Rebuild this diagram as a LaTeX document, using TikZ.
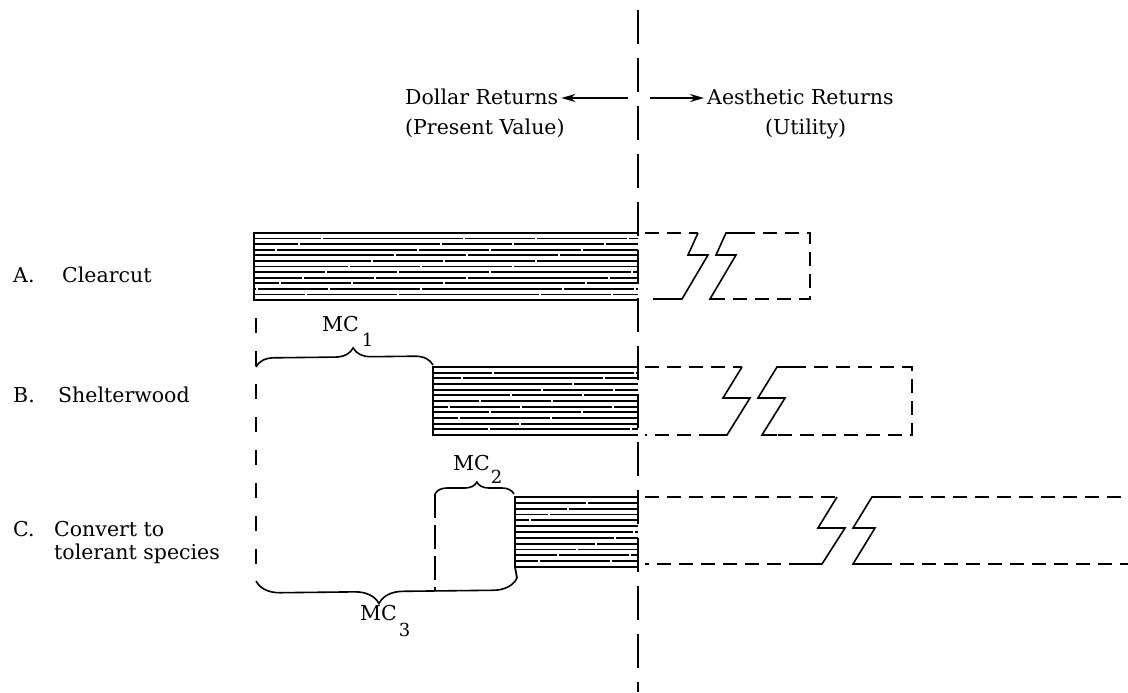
\documentclass[tikz,border=0pt]{standalone}
\usepackage{fontspec}
\setmainfont{DejaVu Serif}
\usetikzlibrary{arrows.meta,decorations.pathreplacing}
\begin{document}
\begin{tikzpicture}[x=1pt,y=-1pt,
  txt/.style={font=\fontsize{20.5}{24}\selectfont, inner sep=0pt},
  axisline/.style={line width=1.6pt, dash pattern=on 34pt off 14pt},
  barline/.style={line width=1.8pt},
  hatch/.style={line width=1.8pt, dash pattern=on 90pt off 2pt on 140pt off 2pt on 70pt off 2pt},
  ext/.style={line width=1.6pt, dash pattern=on 14pt off 8pt},
  zig/.style={line width=1.6pt, line join=miter},
  bound/.style={line width=1.6pt, dash pattern=on 15pt off 18pt},
  bound2/.style={line width=1.6pt, dash pattern=on 24pt off 7pt},
  brc/.style={line width=1.6pt, decorate},
  arr/.style={line width=1.9pt, -{Stealth[length=14pt,width=8pt]}},
]
\useasboundingbox (0,0) rectangle (1128,693);

% central axis
\coordinate (ctop) at (638,10);
\coordinate (cbot) at (638,692);
\draw[axisline] (ctop) -- (cbot);

% header
\node[txt, anchor=base west] (dr) at (405,105) {Dollar Returns};
\node[txt, anchor=base west] (pv) at (405,135) {(Present Value)};
\node[txt, anchor=base west] (ar) at (707,105) {Aesthetic Returns};
\node[txt, anchor=base west] (ut) at (765,135) {(Utility)};
\coordinate (la) at (628,98);
\coordinate (ra) at (650,98);
\draw[arr] (la) -- ([xshift=3pt]dr.east |- la);
\draw[arr] (ra) -- ([xshift=-3pt]ar.west |- ra);

% row labels
\node[txt, anchor=base west] (lA) at (13,282) {A.};
\node[txt, anchor=base west] (nA) at (62,282) {Clearcut};
\node[txt, anchor=base west] (lB) at (13,402) {B.};
\node[txt, anchor=base west] (nB) at (58,402) {Shelterwood};
\node[txt, anchor=base west] (lC) at (13,536) {C.};
\node[txt, anchor=base west] (nC1) at (54,536) {Convert to};
\node[txt, anchor=base west] (nC2) at (54,559) {tolerant species};

% bar A
\foreach \f in {1,...,11}
  \draw[hatch, dash phase={\f*23}] (254,{233+\f*67/12}) -- (638,{233+\f*67/12});
\draw[barline] (638,233) -- (254,233) -- (254,300) -- (638,300);
% bar B
\foreach \f in {1,...,11}
  \draw[hatch, dash phase={\f*31}] (433,{367+\f*68/12}) -- (638,{367+\f*68/12});
\draw[barline] (638,367) -- (433,367) -- (433,435) -- (638,435);
% bar C
\foreach \f in {1,...,11}
  \draw[hatch, dash phase={\f*19}] (515,{497+\f*70/12}) -- (638,{497+\f*70/12});
\draw[barline] (638,497) -- (515,497) -- (515,567) -- (638,567);

% aesthetic extension A
\draw[ext] (645,233) -- (698,233);
\draw[zig] (698,233) -- (688,255) -- (708,255) -- (682,299) -- (667,299);
\draw[ext] (667,299) -- (645,299);
\draw[zig] (741,233) -- (726,233) -- (716,255) -- (736,255) -- (710,299) -- (724,299);
\draw[ext] (741,233) -- (810,233) -- (810,299) -- (724,299);

% aesthetic extension B
\draw[ext] (645,367) -- (742,367);
\draw[zig] (742,367) -- (723,398) -- (750,398) -- (727,435) -- (713,435);
\draw[ext] (713,435) -- (645,435);
\draw[zig] (792,367) -- (777,367) -- (758,398) -- (785,398) -- (762,435) -- (777,435);
\draw[ext] (792,367) -- (912,367) -- (912,435) -- (777,435);

% aesthetic extension C
\draw[ext] (645,497) -- (837,497);
\draw[zig] (837,497) -- (818,528) -- (845,528) -- (822,564) -- (803,564);
\draw[ext] (803,564) -- (645,564);
\draw[zig] (887,497) -- (872,497) -- (853,528) -- (875,528) -- (853,564) -- (878,564);
\draw[ext] (887,497) -- (1128,497);
\draw[ext] (878,564) -- (1128,564);

% marginal cost boundaries
\coordinate (b1t) at (256,318);
\coordinate (b1b) at (256,581);
\draw[bound] (b1t) -- (b1b);
\coordinate (b2t) at (435,494);
\coordinate (b2b) at (435,590);
\draw[bound2] (b2t) -- (b2b);
\draw[barline] (515,567) -- (517,578);

% braces
\draw[brc, decoration={brace, amplitude=18pt, aspect=0.55}] (256,367) -- (433,365);
\draw[brc, decoration={brace, amplitude=12pt, aspect=0.53}] (435,494) -- (514,494);
\draw[brc, decoration={brace, amplitude=24pt, aspect=0.53}] (517,578) -- (256,581);

% MC labels
\node[txt, anchor=base west] (mc1) at (322,331) {MC\raisebox{-15pt}{\kern3pt\fontsize{18}{18}\selectfont 1}};
\node[txt, anchor=base west] (mc2) at (453,470) {MC\raisebox{-13pt}{\kern1pt\fontsize{18}{18}\selectfont 2}};
\node[txt, anchor=base west] (mc3) at (360,620) {MC\raisebox{-16pt}{\kern2pt\fontsize{18}{18}\selectfont 3}};
\end{tikzpicture}
\end{document}
